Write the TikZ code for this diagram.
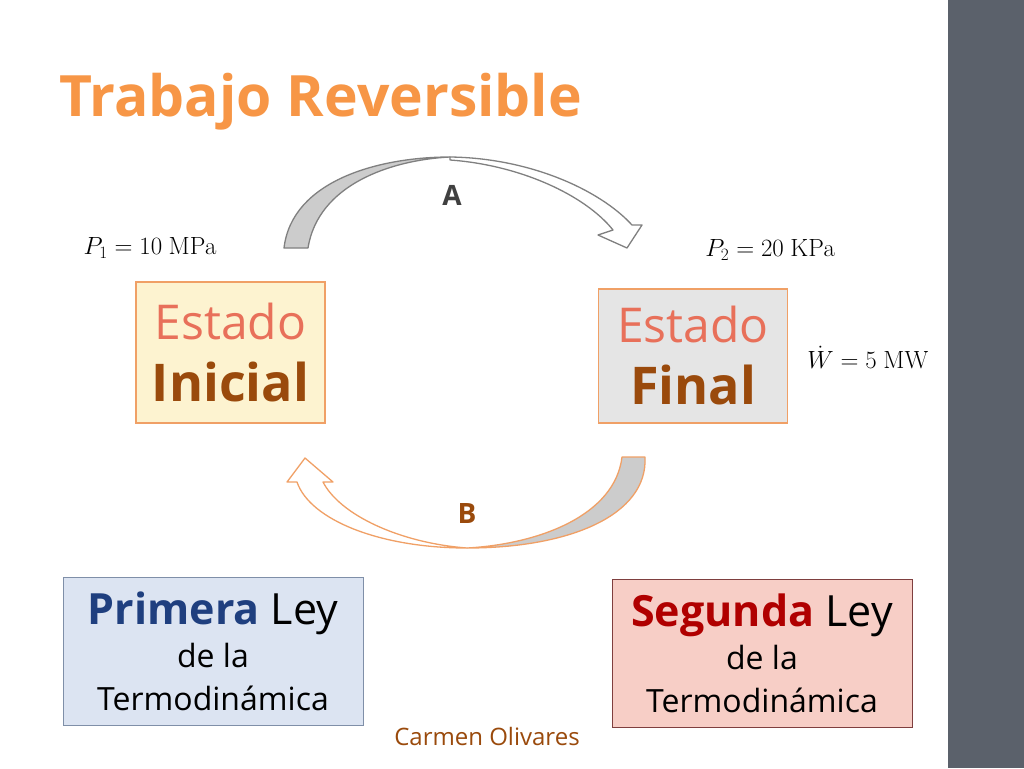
\documentclass[tikz,border=0pt]{standalone}
\usepackage[no-math]{fontspec}
\setmainfont{Open Sans}
\usetikzlibrary{positioning}
\definecolor{naranja}{HTML}{F79646}
\definecolor{barra}{HTML}{5B616B}
\definecolor{salmon}{HTML}{E8705A}
\definecolor{cafe}{HTML}{9A4A0C}
\definecolor{borde}{HTML}{F0A066}
\definecolor{amarillo}{HTML}{FDF3D0}
\definecolor{grisclaro}{HTML}{E5E5E5}
\definecolor{azulclaro}{HTML}{DCE4F2}
\definecolor{azulborde}{HTML}{7F8FA8}
\definecolor{azul}{HTML}{1F3F7F}
\definecolor{rosa}{HTML}{F7CEC6}
\definecolor{rojo}{HTML}{B00000}
\definecolor{rojoborde}{HTML}{7F3F3F}
\tikzset{
  estado/.style={draw=borde, line width=1.2pt, align=center, inner sep=0pt,
    minimum width=189pt, font=\fontsize{48}{62}\selectfont},
  ley/.style={line width=1pt, align=center, inner sep=0pt,
    minimum width=300pt, minimum height=148pt, font=\fontsize{32}{43}\selectfont},
  dato/.style={font=\fontsize{25}{27}\selectfont},
  flecha/.style={line width=1.3pt, line join=round}
}
\begin{document}
\begin{tikzpicture}[x=1pt,y=-1pt]
	\useasboundingbox (0,0) rectangle (1024,768);
	\fill[white] (0,0) rectangle (1024,768);
	\fill[barra] (948,0) rectangle (1024,768);
	
	\node[anchor=base west, text=naranja, font=\bfseries\fontsize{57}{57}\selectfont] (titulo) at (56,116) {Trabajo Reversible};
	
	% estados
	\node[estado, fill=amarillo, minimum height=141pt] (inicial) at (230.5,352.5) {{\color{salmon}Estado}\\ {\fontsize{52}{62}\selectfont\bfseries\color{cafe}Inicial}};
	\node[estado, fill=grisclaro, minimum height=134pt] (final) at (693,356) {{\color{salmon}Estado}\\ {\fontsize{52}{62}\selectfont\bfseries\color{cafe}Final}};
	
	\node[dato] (p1) at (150,248) {$P_1 = 10\ \mathrm{MPa}$};
	\node[dato] (p2) at (770,250) {$P_2 = 20\ \mathrm{KPa}$};
	\node[dato] (w) at (868,357) {$\dot{W} = 5\ \mathrm{MW}$};
	
	% flecha A
	\draw[flecha, gray, fill=gray!40] (284,248) .. controls (292,180) and (380,157) .. (450,157) .. controls (390,160) and (318,185) .. (308,248) -- cycle;
	\draw[flecha, gray, fill=white] (450,157) .. controls (530,158) and (600,190) .. (632,225) -- (642,225) -- (627,248) -- (598,235) -- (613,230) .. controls (585,195) and (520,165) .. (450,160) -- cycle;
	\node[text=darkgray, font=\bfseries\fontsize{28}{30}\selectfont] (A) at (452,195) {A};
	
	% flecha B
	\draw[flecha, borde, fill=gray!40] (622,457) -- (645,457) .. controls (648,515) and (570,548) .. (467,548) .. controls (540,544) and (615,515) .. (622,457) -- cycle;
	\draw[flecha, borde, fill=white] (467,548) .. controls (380,548) and (310,520) .. (297,482) -- (287,482) -- (305,458) -- (333,482) -- (323,482) .. controls (340,515) and (400,543) .. (467,548) -- cycle;
	\node[text=cafe, font=\bfseries\fontsize{28}{30}\selectfont] (B) at (467,513) {B};
	
	% leyes
	\node[ley, draw=azulborde, fill=azulclaro] (primera) at (213,651) {{\fontsize{43}{43}\selectfont{\bfseries\color{azul}Primera} Ley}\\ de la\\ Termodinámica};
	\node[ley, draw=rojoborde, fill=rosa] (segunda) at (762,653.5) {{\fontsize{43}{43}\selectfont{\bfseries\color{rojo}Segunda} Ley}\\ de la\\ Termodinámica};
	
	\node[text=cafe, font=\fontsize{24}{26}\selectfont] (autora) at (487,736) {Carmen Olivares};
	
\end{tikzpicture}
\end{document}
